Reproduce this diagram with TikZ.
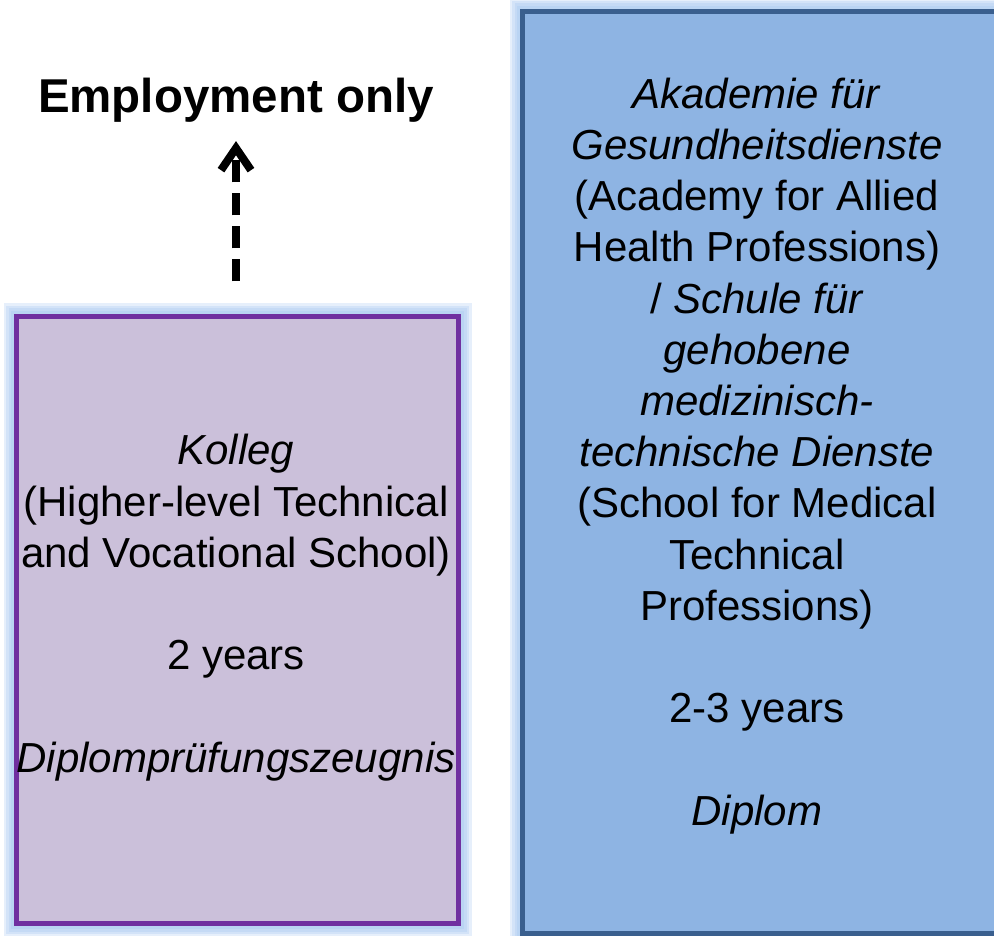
\documentclass[tikz,border=0pt]{standalone}
\usepackage{fontspec}
\setmainfont{Liberation Sans}
\usepackage{xcolor}
\usepackage{tikz}
\usetikzlibrary{arrows.meta}
\definecolor{kollegfill}{HTML}{CBC0DA}
\definecolor{kollegdraw}{HTML}{7030A0}
\definecolor{akadfill}{HTML}{8EB4E3}
\definecolor{akaddraw}{HTML}{3A5F8E}
\definecolor{glowblue}{HTML}{9DC3F0}
\tikzset{
    glow/.style = {draw=glowblue, line width=#1, draw opacity=0.25},
    boxnode/.style = {rectangle, inner sep=0pt, line width=5pt,
        preaction={glow=26pt}, preaction={glow=21pt}, preaction={glow=16pt}, preaction={glow=11pt}},
    purple_box/.style = {boxnode, draw=kollegdraw, fill=kollegfill, minimum width=442pt, minimum height=607pt},
    blue_box/.style = {boxnode, draw=akaddraw, fill=akadfill, minimum width=477.5pt, minimum height=922pt},
    body_text/.style = {align=center, inner sep=0pt, font=\fontsize{42}{51.2}\selectfont},
    head_text/.style = {inner sep=3pt, font=\fontsize{47.5}{57}\selectfont\bfseries},
    exit_arrow/.style = {-{Straight Barb[length=22pt,width=30pt]}, line width=8pt, dash pattern=on 22pt off 11pt}
}
\begin{document}
\begin{tikzpicture}[x=1pt, y=-1pt]
    \useasboundingbox [fill=white] (0,0) rectangle (994,936);
    % boxes
    \node [purple_box] (kolleg) at (237.5,620) {};
    \node [blue_box] (akademie) at (761.25,472.5) {};
    % texts (base = last line)
    \node [head_text, anchor=base] (employ) at (236,113) {Employment only};
    \node [body_text, anchor=base] (kollegtext) at (236,772) {\textit{Kolleg}\\
        (Higher-level Technical\\
        and Vocational School)\\[51.2pt]
        2 years\\[51.2pt]
        \textit{Diplomprüfungszeugnis}};
    \node [body_text, anchor=base] (akademietext) at (757,825) {\textit{Akademie für}\\
        \textit{Gesundheitsdienste}\\
        (Academy for Allied\\
        Health Professions)\\
        / \textit{Schule für}\\
        \textit{gehobene}\\
        \textit{medizinisch-}\\
        \textit{technische Dienste}\\
        (School for Medical\\
        Technical\\
        Professions)\\[51.2pt]
        2-3 years\\[51.2pt]
        \textit{Diplom}};
    % arrow
    \draw [exit_arrow, shorten <=32.5pt, shorten >=15pt] (employ.south |- kolleg.north) -- (employ.south);
\end{tikzpicture}
\end{document}
